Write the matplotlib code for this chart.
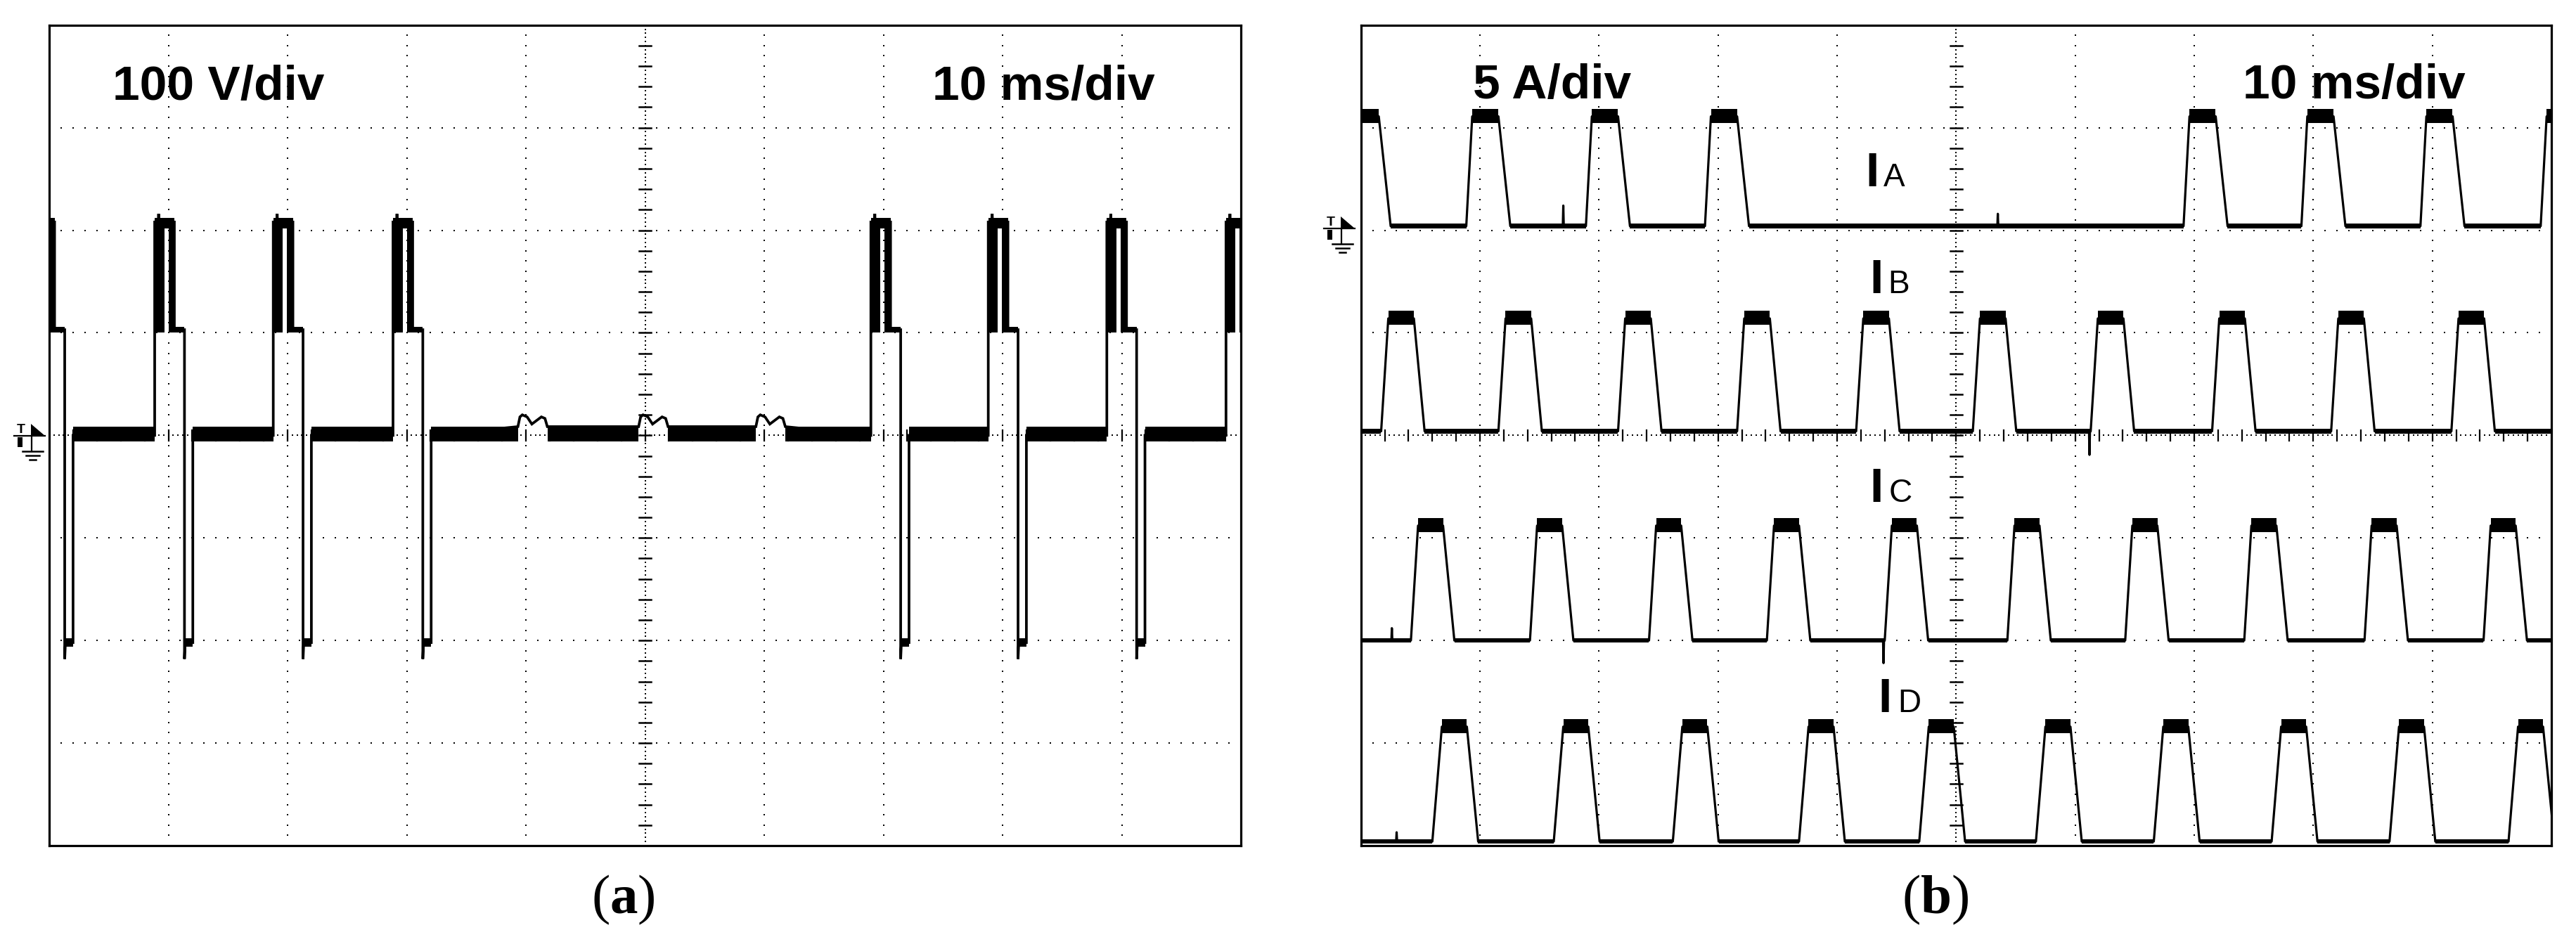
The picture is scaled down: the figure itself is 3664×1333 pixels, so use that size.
import numpy as np
import matplotlib
matplotlib.use('Agg')
import matplotlib.pyplot as plt

plt.rcParams['mathtext.fontset'] = 'custom'
plt.rcParams['mathtext.rm'] = 'Liberation Serif'
plt.rcParams['mathtext.bf'] = 'Liberation Serif:bold'

W, H = 3664, 1333

# scope screen: 10 x 8 divisions, x in ms (10 ms/div), y in divisions

# ---- panel (a): phase voltage, 100 V/div ----
va_on = [-1.2, 8.85, 18.8, 28.85, 68.95, 78.8, 88.75, 98.75]   # turn-on instants
va_levels = [2.08, 1.03, -2.02]      # high step, middle step, negative step
va_steps = [1.65, 2.5, 3.2]          # ms after turn-on where the level changes
va_ring = [[0.0, 0.8], [1.15, 1.65]] # dense ringing blocks on the high step
va_spike = [2.16, -2.18]
bump_on = [39.33, 49.46, 59.3]       # small induced bumps while phase is off
bump_t = [0.0, 0.17, 0.37, 0.77, 1.17, 1.97, 2.27, 2.47]
bump_v = [0.085, 0.18, 0.2, 0.18, 0.11, 0.18, 0.165, 0.085]

# ---- panel (b): phase currents, 5 A/div ----
ia_on = [-1.2, 8.85, 18.9, 28.9, 69.1, 79.0, 89.0, 99.1]
ib_on = [1.7, 11.55, 21.6, 31.6, 41.6, 51.4, 61.3, 71.5, 81.5, 91.6]
ic_on = [4.2, 14.2, 24.2, 34.1, 44.0, 54.3, 64.2, 74.2, 84.3, 94.3]
id_on = [6.0, 16.2, 26.2, 36.8, 46.9, 56.7, 66.6, 76.5, 86.4, 96.4]
cur_on = [ia_on, ib_on, ic_on, id_on]
cur_names = ['A', 'B', 'C', 'D']
cur_base = [2.04, 0.04, -2.0, -3.96]
cur_amp = [1.07, 1.1, 1.12, 1.12]
cur_rise = [0.5, 0.6, 0.6, 0.8]
cur_flat = [2.2, 2.15, 2.1, 2.1]
cur_fall = [1.0, 0.9, 0.95, 0.95]
cur_spikes = [[(17.0, 0.2), (53.5, 0.12)], [(61.2, -0.23)],
              [(2.6, 0.12), (43.9, -0.22)], [(3.0, 0.09)]]


def px_box(x0, y0, x1, y1):
    return [x0 / W, 1 - y1 / H, (x1 - x0) / W, (y1 - y0) / H]


def complement(intervals, lo=-2.0, hi=102.0):
    gaps = []
    cur = lo
    for a, b in sorted(intervals):
        if a > cur:
            gaps.append((cur, a))
        cur = max(cur, b)
    if cur < hi:
        gaps.append((cur, hi))
    return gaps


def graticule(ax):
    dot = dict(ls='none', marker='s', ms=2.1, mew=0, color='k', zorder=1)
    xs = np.arange(1, 100) * 1.0
    for yl in [-3, -2, -1, 1, 2, 3]:
        ax.plot(xs, np.full(len(xs), yl), **dot)
    ys = np.arange(-39, 40) / 10
    for xl in [10, 20, 30, 40, 60, 70, 80, 90]:
        ax.plot(np.full(len(ys), xl), ys, **dot)
    # centre lines: fine dots plus small ticks
    fine = dict(ls='none', marker='s', ms=1.6, mew=0, color='k', zorder=1)
    yc = np.arange(-99, 100) * 0.04
    ax.plot(np.full(len(yc), 50.0), yc, **fine)
    xc = np.arange(1, 250) * 0.4
    ax.plot(xc, np.zeros(len(xc)), **fine)
    for yy in np.arange(-19, 20) * 0.2:
        ax.plot([49.5, 50.5], [yy, yy], color='k', lw=1.8, zorder=1)
    for xx in np.arange(1, 50) * 2.0:
        ax.plot([xx, xx], [-0.05, 0.05], color='k', lw=1.6, zorder=1)
    ax.set_xlim(0, 100)
    ax.set_ylim(-4, 4)
    ax.set_xticks([])
    ax.set_yticks([])
    for sp in ax.spines.values():
        sp.set_linewidth(2.3)
        sp.set_zorder(5)


fig = plt.figure(figsize=(W / 100, H / 100), dpi=100)
ax_a = fig.add_axes(px_box(70, 35.7, 1765, 1203))
ax_b = fig.add_axes(px_box(1935.7, 35.7, 3629, 1203))
graticule(ax_a)
graticule(ax_b)

# ---------------- panel (a) trace ----------------
hi, mid, lo = va_levels
d0, d1, d2 = va_steps
pieces = []
for s in va_on:
    pieces.append([(s, 0.0), (s, hi), (s + 0.3, hi), (s + 0.33, va_spike[0]),
                   (s + 0.36, hi), (s + d0, hi), (s + d0, mid), (s + d1, mid),
                   (s + d1, va_spike[1]), (s + d1 + 0.06, lo), (s + d2, lo),
                   (s + d2, 0.0)])
for b in bump_on:
    pieces.append([(b + dt, v) for dt, v in zip(bump_t, bump_v)])
pieces.sort(key=lambda p: p[0][0])
pts = [(-2.0, 0.0)] + [q for p in pieces for q in p] + [(102.0, 0.0)]
ta, ya = zip(*pts)
ax_a.plot(ta, ya, color='k', lw=2.7, zorder=3, solid_joinstyle='miter')

for s in va_on:
    for a, b in va_ring:
        ax_a.fill_between([s + a, s + b], mid - 0.03, hi + 0.02, color='k', lw=0, zorder=3)
    ax_a.fill_between([s, s + d0], hi - 0.06, hi + 0.04, color='k', lw=0, zorder=3)
    ax_a.fill_between([s + d0, s + d1], mid - 0.03, mid + 0.03, color='k', lw=0, zorder=3)
    ax_a.fill_between([s + d1, s + d2], lo - 0.04, lo + 0.04, color='k', lw=0, zorder=3)

busy = [(s, s + d2) for s in va_on] + [(b, b + bump_t[-1]) for b in bump_on]
for a, b in complement(busy):
    ax_a.fill_between([a, b], -0.06, 0.085, color='k', lw=0, zorder=3)

# ---------------- panel (b) traces ----------------
for k in range(4):
    base, amp = cur_base[k], cur_amp[k]
    tr, tf_, tfl = cur_rise[k], cur_flat[k], cur_fall[k]
    top = base + amp
    pieces = []
    for s in cur_on[k]:
        pieces.append([(s, base), (s + tr, top), (s + tr + tf_, top),
                       (s + tr + tf_ + tfl, base)])
    for ts, h in cur_spikes[k]:
        pieces.append([(ts - 0.04, base), (ts, base + h), (ts + 0.04, base)])
    pieces.sort(key=lambda p: p[0][0])
    pts = [(-2.0, base)] + [q for p in pieces for q in p] + [(102.0, base)]
    tb, yb = zip(*pts)
    ax_b.plot(tb, yb, color='k', lw=2.3, zorder=3)
    for s in cur_on[k]:
        ax_b.fill_between([s + tr, s + tr + tf_], top - 0.065, top + 0.075,
                          color='k', lw=0, zorder=3)
    busy = [(s, s + tr + tf_ + tfl) for s in cur_on[k]]
    for a, b in complement(busy):
        ax_b.fill_between([a, b], base - 0.022, base + 0.022, color='k', lw=0, zorder=3)

# ---------------- overlay in pixel units ----------------
ov = fig.add_axes([0, 0, 1, 1], zorder=10)
ov.set_xlim(0, W)
ov.set_ylim(H, 0)
ov.axis('off')

sans = 'Liberation Sans'
ov.text(311, 142, '100 V/div', ha='center', va='baseline', fontsize=50,
        fontweight='bold', family=sans)
ov.text(1484, 142, '10 ms/div', ha='center', va='baseline', fontsize=50,
        fontweight='bold', family=sans)
ov.text(2208, 140, '5 A/div', ha='center', va='baseline', fontsize=50,
        fontweight='bold', family=sans)
ov.text(3348, 140, '10 ms/div', ha='center', va='baseline', fontsize=50,
        fontweight='bold', family=sans)

lab_x = [2653, 2659, 2659, 2671]
lab_y = [265, 417, 714, 1013]
lab_dx = [26, 26, 28, 28]
for k in range(4):
    ov.text(lab_x[k], lab_y[k], 'I', ha='left', va='baseline', fontsize=50,
            fontweight='bold', family=sans)
    ov.text(lab_x[k] + lab_dx[k], lab_y[k], cur_names[k], ha='left',
            va='baseline', fontsize=33, family=sans)

ov.text(886, 1299, r'($\mathbf{a}$)', ha='center', va='baseline', fontsize=57,
        family='Liberation Serif')
ov.text(2753, 1299, r'($\mathbf{b}$)', ha='center', va='baseline', fontsize=57,
        family='Liberation Serif')


def ground_marker(xr, yl):
    # trigger / ground reference symbol left of the screen
    ov.text(xr - 34, yl - 4, 'T', ha='center', va='baseline', fontsize=14,
            fontweight='bold', family=sans)
    ov.fill([xr - 20, xr - 20, xr], [yl - 17, yl, yl], color='k', lw=0)
    ov.plot([xr - 44, xr], [yl, yl], color='k', lw=1.6)
    ov.fill([xr - 39, xr - 32, xr - 32, xr - 39], [yl + 2, yl + 2, yl + 16, yl + 16],
            color='k', lw=0)
    ov.plot([xr - 19, xr - 19], [yl + 1, yl + 22], color='k', lw=1.6)
    ov.plot([xr - 32, xr - 3], [yl + 22, yl + 22], color='k', lw=1.8)
    ov.plot([xr - 27, xr - 8], [yl + 28, yl + 28], color='k', lw=1.8)
    ov.plot([xr - 22, xr - 13], [yl + 34, yl + 34], color='k', lw=1.8)


ground_marker(64, 620)
ground_marker(1927, 325)

fig.savefig('out.png', dpi=100, facecolor='white')
